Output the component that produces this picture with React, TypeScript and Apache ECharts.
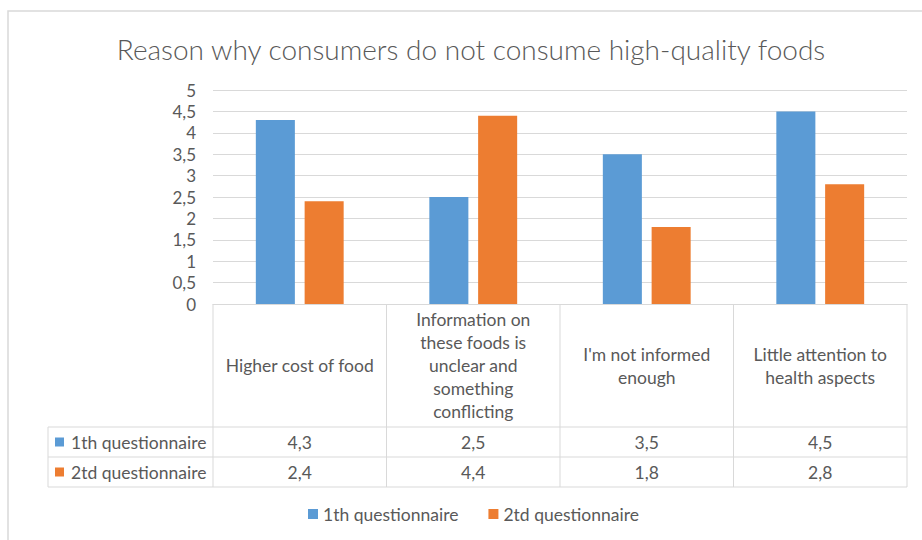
import React, { useEffect, useRef } from "react";
import * as echarts from "echarts";

const title = "Reason why consumers do not consume high-quality foods";
const categories = [
  "Higher cost of food",
  "Information on\nthese foods is\nunclear and\nsomething\nconflicting",
  "I'm not informed\nenough",
  "Little attention to\nhealth aspects",
];
const seriesNames = ["1th questionnaire", "2td questionnaire"];
const q1Values = [4.3, 2.5, 3.5, 4.5];
const q2Values = [2.4, 4.4, 1.8, 2.8];
const colors = ["#5B9BD5", "#ED7D31"];

const FONT = "Lato, 'Open Sans', sans-serif";
const TXT = "#595959";
const LINE = "#D9D9D9";
const FS = 17.5;

const GL = 213;
const GR = 907;
const GT = 90;
const ZERO = 304;
const ROW1 = 427;
const ROW2 = 457;
const ROW3 = 487;
const LEGX = 48;

const fmt = (v: number) => String(v).replace(".", ",");

export default function App() {
  const ref = useRef<HTMLDivElement>(null);
  useEffect(() => {
    document.body.style.margin = "0";
    const chart = echarts.init(ref.current!, undefined, { renderer: "svg" });
    const n = categories.length;
    const cw = (GR - GL) / n;
    const allSeries = [q1Values, q2Values];
    const graphic: any[] = [];
    graphic.push({
      type: "rect",
      shape: { x: 8, y: 11, width: 1000, height: 1000 },
      style: { fill: "none", stroke: LINE, lineWidth: 1.5 },
      silent: true,
    });
    [ROW1, ROW2, ROW3].forEach((y) =>
      graphic.push({
        type: "line",
        shape: { x1: LEGX, y1: y, x2: GR, y2: y },
        style: { stroke: LINE, lineWidth: 1 },
      })
    );
    for (let i = 0; i <= n; i++) {
      const x = GL + i * cw;
      graphic.push({
        type: "line",
        shape: { x1: x, y1: ZERO, x2: x, y2: ROW3 },
        style: { stroke: LINE, lineWidth: 1 },
      });
    }
    graphic.push({
      type: "line",
      shape: { x1: LEGX, y1: ROW1, x2: LEGX, y2: ROW3 },
      style: { stroke: LINE, lineWidth: 1 },
    });
    const rowYs = [ROW1, ROW2];
    allSeries.forEach((vals, si) => {
      const cy = rowYs[si] + 15;
      graphic.push({
        type: "rect",
        shape: { x: 55, y: cy - 4.5, width: 9, height: 9 },
        style: { fill: colors[si] },
      });
      graphic.push({
        type: "text",
        x: 71,
        y: cy,
        style: {
          text: seriesNames[si],
          font: `${FS}px ${FONT}`,
          fill: TXT,
          textAlign: "left",
          textVerticalAlign: "middle",
        },
      });
      vals.forEach((v, i) => {
        graphic.push({
          type: "text",
          x: GL + (i + 0.5) * cw,
          y: cy,
          style: {
            text: fmt(v),
            font: `${FS}px ${FONT}`,
            fill: TXT,
            textAlign: "center",
            textVerticalAlign: "middle",
          },
        });
      });
    });

    chart.setOption({
      animation: false,
      title: {
        text: title,
        left: 466,
        top: 30,
        textAlign: "center",
        textStyle: { fontFamily: FONT, fontSize: 28, fontWeight: 300, color: TXT },
      },
      grid: { left: GL, top: GT, width: GR - GL, height: ZERO - GT },
      legend: {
        left: 308,
        top: 505,
        padding: 0,
        icon: "rect",
        itemWidth: 10,
        itemHeight: 10,
        itemGap: 30,
        textStyle: { fontFamily: FONT, fontSize: FS, color: TXT },
        data: seriesNames,
      },
      xAxis: {
        type: "category",
        data: categories,
        axisLine: { lineStyle: { color: LINE } },
        axisTick: { show: false },
        axisLabel: {
          interval: 0,
          margin: (ROW1 - ZERO) / 2,
          verticalAlign: "middle",
          lineHeight: 23,
          fontFamily: FONT,
          fontSize: FS,
          color: TXT,
          align: "center",
        },
      },
      yAxis: {
        type: "value",
        min: 0,
        max: 5,
        interval: 0.5,
        axisLine: { show: false },
        axisTick: { show: false },
        splitLine: { lineStyle: { color: LINE } },
        axisLabel: {
          margin: 17,
          fontFamily: FONT,
          fontSize: 17,
          color: TXT,
          formatter: (v: number) => fmt(v),
        },
      },
      series: allSeries.map((vals, si) => ({
        type: "bar",
        name: seriesNames[si],
        data: vals,
        barWidth: "22.5%",
        barGap: "25%",
        itemStyle: { color: colors[si] },
      })),
      graphic,
    });
    return () => chart.dispose();
  }, []);
  return (
    <div
      ref={ref}
      style={{ position: "absolute", left: 0, top: 0, width: 922, height: 540, background: "#fff" }}
    />
  );
}
